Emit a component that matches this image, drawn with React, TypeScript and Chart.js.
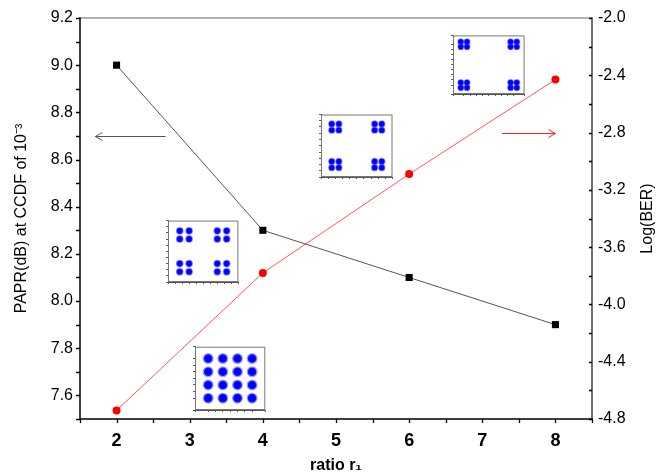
import React, { useEffect, useRef } from 'react';
import { Chart, registerables } from 'chart.js';

Chart.register(...registerables);

// ---------- main chart data ----------
const ratios = [2, 4, 6, 8];
const paprValues = [9.0, 8.3, 8.1, 7.9];
const logBerValues = [-4.74, -3.78, -3.09, -2.43];

const xMajorTicks = [2, 3, 4, 5, 6, 7, 8];
const xMinorTicks = [1.5, 2.5, 3.5, 4.5, 5.5, 6.5, 7.5, 8.5];
const leftMajorTicks = [7.6, 7.8, 8.0, 8.2, 8.4, 8.6, 8.8, 9.0, 9.2];
const leftMinorTicks = [7.5, 7.7, 7.9, 8.1, 8.3, 8.5, 8.7, 8.9, 9.1];
const rightMajorTicks = [-4.8, -4.4, -4.0, -3.6, -3.2, -2.8, -2.4, -2.0];
const rightMinorTicks = [-4.6, -4.2, -3.8, -3.4, -3.0, -2.6, -2.2];

// arrows (data coordinates): black one on the left axis, red one on the right axis
const leftArrow = { from: 2.67, to: 1.71, y: 8.7 };
const rightArrow = { from: 7.27, to: 8.0, y: -2.8 };

// ---------- inset constellation levels (I/Q amplitude levels) ----------
const levelsR2 = [-3, -1, 1, 3];
const levelsR4 = [-5, -3, 3, 5];
const levelsR6 = [-7, -5, 5, 7];
const levelsR8 = [-9, -7, 7, 9];

const FAM = "'Liberation Sans', Arial, Helvetica, sans-serif";

type InsetCfg = {
  levels: number[];
  range: number;
  step: number;
  left: number;
  top: number;
  w: number;
  h: number;
  radius: number;
  halo: number;
};

const insets: InsetCfg[] = [
  { levels: levelsR2, range: 4.8, step: 1, left: 195, top: 342, w: 75, h: 68, radius: 4.3, halo: 2.4 },
  { levels: levelsR4, range: 7.5, step: 1.5, left: 168, top: 217, w: 74, h: 65, radius: 3.1, halo: 1.6 },
  { levels: levelsR6, range: 10, step: 2, left: 321, top: 111, w: 75, h: 66, radius: 2.9, halo: 1.5 },
  { levels: levelsR8, range: 11.5, step: 2, left: 453, top: 32, w: 75, h: 62, radius: 2.8, halo: 1.4 },
];

const ML = 7; // inset margin left (ticks)
const MB = 7; // inset margin bottom
const MT = 2;
const MR = 2;

function Inset({ cfg }: { cfg: InsetCfg }) {
  const ref = useRef<HTMLCanvasElement>(null);
  useEffect(() => {
    const pts: { x: number; y: number }[] = [];
    cfg.levels.forEach((i) => cfg.levels.forEach((q) => pts.push({ x: i, y: q })));
    const boxPlugin = {
      id: 'insetBox',
      beforeDraw(chart: any) {
        const { ctx, chartArea: a } = chart;
        ctx.save();
        ctx.fillStyle = '#fff';
        ctx.fillRect(a.left, a.top, a.right - a.left, a.bottom - a.top);
        ctx.restore();
      },
      afterDraw(chart: any) {
        const { ctx, chartArea: a } = chart;
        ctx.save();
        ctx.strokeStyle = '#777';
        ctx.lineWidth = 1;
        ctx.strokeRect(a.left + 0.5, a.top + 0.5, a.right - a.left - 1, a.bottom - a.top - 1);
        ctx.restore();
      },
    };
    const axisCommon = (fitProp: 'width' | 'height', size: number) => ({
      type: 'linear' as const,
      min: -cfg.range,
      max: cfg.range,
      afterFit: (s: any) => {
        s[fitProp] = size;
      },
      grid: { display: true, drawOnChartArea: false, drawTicks: true, tickLength: 2, color: '#333', lineWidth: 0.8 },
      border: { display: true, color: '#555', width: 1 },
      ticks: { display: false, stepSize: cfg.step },
    });
    const chart = new Chart(ref.current!, {
      type: 'scatter',
      data: {
        datasets: [
          {
            data: pts,
            pointRadius: cfg.radius,
            pointBackgroundColor: '#0000ff',
            pointBorderColor: 'rgba(40,40,255,0.45)',
            pointBorderWidth: cfg.halo,
          },
        ],
      },
      options: {
        responsive: false,
        animation: false,
        devicePixelRatio: 1,
        layout: { padding: { top: MT, right: MR, left: 0, bottom: 0 } },
        plugins: { legend: { display: false }, tooltip: { enabled: false } },
        scales: {
          x: axisCommon('height', MB),
          y: axisCommon('width', ML),
        },
      } as any,
      plugins: [boxPlugin],
    });
    return () => chart.destroy();
  }, [cfg]);
  return (
    <canvas
      ref={ref}
      width={cfg.w + ML + MR}
      height={cfg.h + MT + MB}
      style={{ position: 'absolute', left: cfg.left - ML, top: cfg.top - MT, display: 'block' }}
    />
  );
}

export default function App() {
  const ref = useRef<HTMLCanvasElement>(null);
  useEffect(() => {
    const framePlugin = {
      id: 'frame',
      afterDraw(chart: any) {
        const { ctx, chartArea: a, scales } = chart;
        const xs = scales.x;
        const yl = scales.y;
        const yr = scales.y1;
        ctx.save();
        // frame
        ctx.lineCap = 'square';
        ctx.strokeStyle = '#666';
        ctx.lineWidth = 1.2;
        ctx.beginPath();
        ctx.moveTo(a.left, a.top);
        ctx.lineTo(a.right, a.top);
        ctx.stroke();
        ctx.strokeStyle = '#000';
        ctx.lineWidth = 1.5;
        ctx.beginPath();
        ctx.moveTo(a.left, a.top);
        ctx.lineTo(a.left, a.bottom);
        ctx.lineTo(a.right, a.bottom);
        ctx.stroke();
        ctx.strokeStyle = '#222';
        ctx.lineWidth = 1.3;
        ctx.beginPath();
        ctx.moveTo(a.right, a.top);
        ctx.lineTo(a.right, a.bottom);
        ctx.stroke();
        // ticks
        ctx.lineCap = 'butt';
        ctx.strokeStyle = '#000';
        ctx.lineWidth = 1.3;
        ctx.beginPath();
        [...leftMajorTicks, ...leftMinorTicks].forEach((v) => {
          const y = Math.round(yl.getPixelForValue(v)) + 0.5;
          ctx.moveTo(a.left - 4, y);
          ctx.lineTo(a.left, y);
        });
        [...xMajorTicks, ...xMinorTicks].forEach((v) => {
          const x = Math.round(xs.getPixelForValue(v)) + 0.5;
          ctx.moveTo(x, a.bottom);
          ctx.lineTo(x, a.bottom + 4);
        });
        [...rightMajorTicks, ...rightMinorTicks].forEach((v) => {
          const y = Math.round(yr.getPixelForValue(v)) + 0.5;
          ctx.moveTo(a.right - 3, y);
          ctx.lineTo(a.right, y);
        });
        ctx.stroke();
        // arrows
        const drawArrow = (x1: number, x2: number, y: number, color: string) => {
          const dir = Math.sign(x2 - x1);
          ctx.strokeStyle = color;
          ctx.lineWidth = 1;
          ctx.beginPath();
          ctx.moveTo(x1, y);
          ctx.lineTo(x2, y);
          ctx.moveTo(x2 - dir * 7, y - 4);
          ctx.lineTo(x2, y);
          ctx.lineTo(x2 - dir * 7, y + 4);
          ctx.stroke();
        };
        const ly = Math.round(yl.getPixelForValue(leftArrow.y)) + 0.5;
        drawArrow(xs.getPixelForValue(leftArrow.from), xs.getPixelForValue(leftArrow.to), ly, '#555');
        const ry = Math.round(yr.getPixelForValue(rightArrow.y)) + 0.5;
        drawArrow(xs.getPixelForValue(rightArrow.from), xs.getPixelForValue(rightArrow.to), ry, '#ff2020');
        // right axis title (reads bottom-to-top like the left one)
        ctx.fillStyle = '#000';
        ctx.font = `16px ${FAM}`;
        ctx.textAlign = 'center';
        ctx.textBaseline = 'middle';
        ctx.translate(648, (a.top + a.bottom) / 2);
        ctx.rotate(-Math.PI / 2);
        ctx.fillText('Log(BER)', 0, 0);
        ctx.restore();
      },
    };

    const chart = new Chart(ref.current!, {
      type: 'scatter',
      data: {
        datasets: [
          {
            label: 'PAPR',
            data: ratios.map((x, i) => ({ x, y: paprValues[i] })),
            yAxisID: 'y',
            showLine: true,
            borderColor: '#555',
            borderWidth: 1,
            pointStyle: 'rect',
            pointRadius: 5,
            pointBackgroundColor: '#000',
            pointBorderColor: '#000',
            pointBorderWidth: 0,
          },
          {
            label: 'BER',
            data: ratios.map((x, i) => ({ x, y: logBerValues[i] })),
            yAxisID: 'y1',
            showLine: true,
            borderColor: 'rgba(255,70,70,0.9)',
            borderWidth: 1,
            pointStyle: 'circle',
            pointRadius: 4,
            pointBackgroundColor: '#ff0000',
            pointBorderColor: '#ff0000',
            pointBorderWidth: 0,
          },
        ],
      },
      options: {
        responsive: false,
        animation: false,
        devicePixelRatio: 1,
        layout: { padding: { top: 18, right: 0, bottom: 0, left: 0 } },
        plugins: { legend: { display: false }, tooltip: { enabled: false } },
        scales: {
          x: {
            type: 'linear',
            position: 'bottom',
            min: 1.5,
            max: 8.5,
            afterBuildTicks: (s: any) => {
              s.ticks = xMajorTicks.map((v) => ({ value: v }));
            },
            afterFit: (s: any) => {
              s.height = 57;
            },
            grid: { display: false, drawTicks: false },
            border: { display: false },
            ticks: {
              padding: 11,
              color: '#000',
              font: { family: FAM, size: 18, weight: 'bold' },
              callback: (v: any) => String(v),
            },
            title: {
              display: true,
              text: 'ratio r₁',
              color: '#000',
              font: { family: FAM, size: 16, weight: 'bold' },
              padding: { top: 0, bottom: 1 },
            },
          },
          y: {
            type: 'linear',
            position: 'left',
            min: 7.5,
            max: 9.2,
            afterBuildTicks: (s: any) => {
              s.ticks = leftMajorTicks.map((v) => ({ value: v }));
            },
            afterFit: (s: any) => {
              s.width = 80;
            },
            grid: { display: false, drawTicks: false },
            border: { display: false },
            ticks: {
              padding: 7,
              color: '#000',
              font: { family: FAM, size: 16 },
              callback: (v: any) => Number(v).toFixed(1),
            },
            title: {
              display: true,
              text: 'PAPR(dB) at CCDF of 10⁻³',
              color: '#000',
              font: { family: FAM, size: 16 },
              padding: { top: 12, bottom: 0 },
            },
          },
          y1: {
            type: 'linear',
            position: 'right',
            min: -4.8,
            max: -2.0,
            afterBuildTicks: (s: any) => {
              s.ticks = rightMajorTicks.map((v) => ({ value: v }));
            },
            afterFit: (s: any) => {
              s.width = 69;
            },
            grid: { display: false, drawTicks: false },
            border: { display: false },
            ticks: {
              padding: 6,
              color: '#000',
              font: { family: FAM, size: 16 },
              callback: (v: any) => Number(v).toFixed(1),
            },
            title: { display: false },
          },
        },
      } as any,
      plugins: [framePlugin],
    });
    return () => chart.destroy();
  }, []);

  return (
    <div style={{ position: 'fixed', left: 0, top: 0, width: 661, height: 476, background: '#fff' }}>
      <canvas ref={ref} width={661} height={476} style={{ display: 'block' }} />
      {insets.map((c, i) => (
        <Inset key={i} cfg={c} />
      ))}
    </div>
  );
}
